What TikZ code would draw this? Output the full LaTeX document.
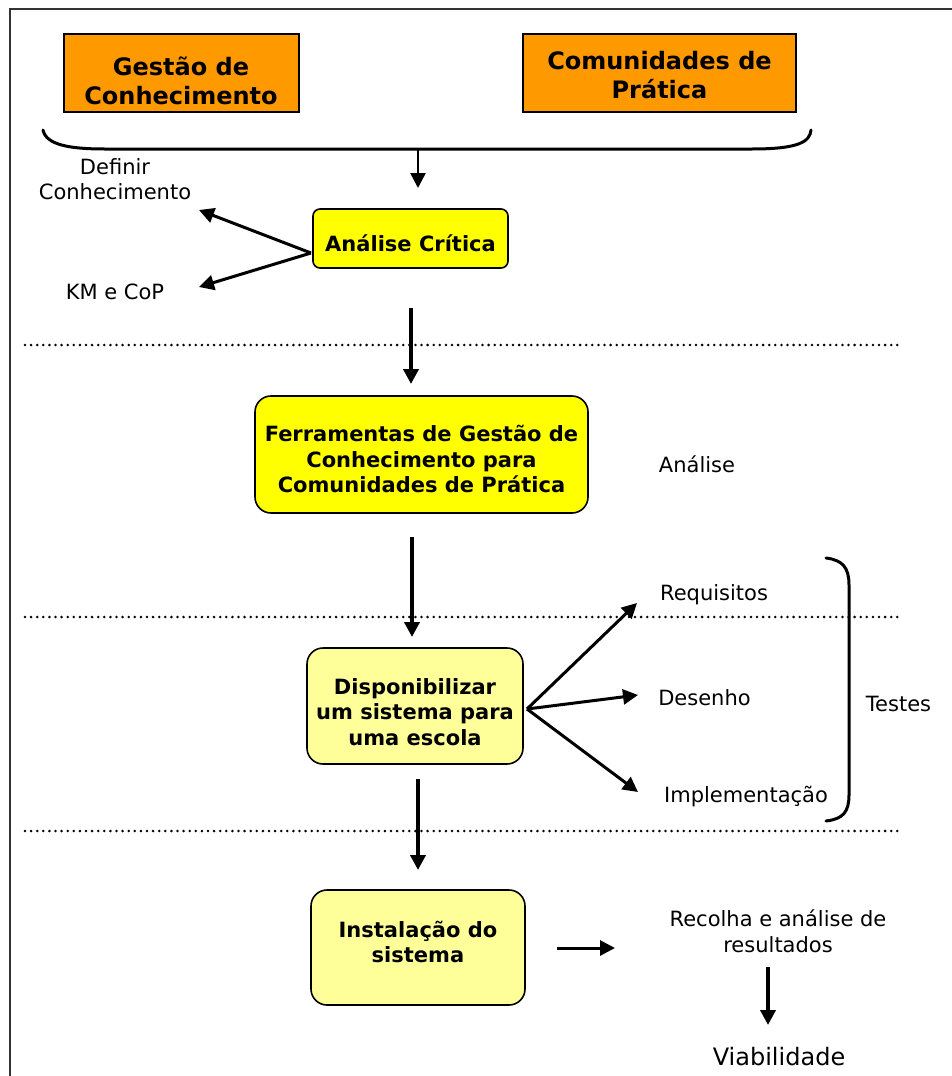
\documentclass[tikz,border=0pt]{standalone}
\usepackage{fontspec}
\setmainfont{DejaVu Sans}
\usetikzlibrary{arrows.meta}
\definecolor{boxorange}{HTML}{FF9900}
\definecolor{boxyellow}{HTML}{FFFF00}
\definecolor{boxpale}{HTML}{FFFF99}
\definecolor{framegray}{HTML}{333333}
\tikzset{
  topbox/.style={draw=black, line width=2pt, fill=boxorange, minimum width=#1, minimum height=78pt, inner sep=0pt},
  roundbox/.style={draw=black, line width=1.6pt, rounded corners=16pt, inner sep=0pt},
  bigbold/.style={font=\bfseries\fontsize{24}{29}\selectfont, align=center, inner sep=0pt},
  boldtxt/.style={font=\bfseries\fontsize{21}{25.5}\selectfont, align=center, inner sep=0pt},
  plain/.style={font=\fontsize{21}{25.5}\selectfont, align=center, inner sep=0pt},
  flow/.style={line width=#1, -{Triangle[length=15pt,width=15pt]}},
  flow/.default=4pt,
  dotline/.style={line width=2.8pt, line cap=round, dash pattern=on 0pt off 6.1pt},
  bracket/.style={line width=3pt, line cap=round}
}
\begin{document}
\begin{tikzpicture}[x=1pt, y=-1pt]
\useasboundingbox (0,0) rectangle (952,1076);
\clip (0,0) rectangle (952,1076);
\fill[white] (0,0) rectangle (952,1076);
% outer frame (runs off the right and bottom edges)
\draw[framegray, line width=2pt] (10,9) rectangle (1000,1100);

% the two source topics
\node[topbox=235pt] (gc) at (181,73) {};
\node[bigbold] (gct) at (181,81) {Gestão de\\Conhecimento};
\node[topbox=273pt] (cp) at (659.5,73) {};
\node[bigbold] (cpt) at (659.5,75.5) {Comunidades de\\Prática};

% curly bracket joining both topics
\draw[bracket] (43,130) .. controls (46,145) and (70,149) .. (105,149) -- (752,149) .. controls (798,149) and (810,142) .. (811,130);
\coordinate (brc) at (418,149);
\coordinate (brcTip) at (418,188);

% critical analysis
\node[roundbox, rounded corners=7pt, fill=boxyellow, minimum width=195pt, minimum height=59pt] (ac) at (410.5,238.5) {};
\node[boldtxt] (act) at (410.5,243) {Análise Crítica};
\draw[flow=2.6pt] (brc) -- (brcTip);

\node[plain] (def) at (115,179) {Definir\\Conhecimento};
\node[plain] (km) at (115,292) {KM e CoP};
\coordinate (acL) at (311,253);
\coordinate (defTip) at (199,210);
\coordinate (kmTip) at (199,287);
\draw[flow=3pt] (acL) -- (defTip);
\draw[flow=3pt] (acL) -- (kmTip);

% phase separators
\draw[dotline] (25,345) -- (902,345);
\draw[dotline] (25,617) -- (902,617);
\draw[dotline] (25,831) -- (902,831);

% tools for knowledge management
\node[roundbox, fill=boxyellow, minimum width=333pt, minimum height=117pt] (fg) at (421.5,454.5) {};
\node[boldtxt] (fgt) at (421.5,459) {Ferramentas de Gestão de\\Conhecimento para\\Comunidades de Prática};
\coordinate (a1s) at (411,308);
\coordinate (a1e) at (411,384);
\draw[flow] (a1s) -- (a1e);
\node[plain] (an) at (697,464) {Análise};

% system development
\node[roundbox, fill=boxpale, minimum width=216pt, minimum height=116pt] (ds) at (415,706) {};
\node[boldtxt] (dst) at (415,712) {Disponibilizar\\um sistema para\\uma escola};
\coordinate (a2s) at (412,537);
\coordinate (a2e) at (412,637);
\draw[flow] (a2s) -- (a2e);

\node[plain] (req) at (714,595) {Requisitos};
\node[plain] (des) at (704.5,698) {Desenho};
\node[plain] (imp) at (746,797) {Implementação};
\coordinate (dsR) at (527,709);
\coordinate (reqTip) at (637,603);
\coordinate (desTip) at (638,695);
\coordinate (impTip) at (638,792);
\draw[flow=3pt] (dsR) -- (reqTip);
\draw[flow=3pt] (dsR) -- (desTip);
\draw[flow=3pt] (dsR) -- (impTip);

% tests bracket
\draw[bracket] (826,558) .. controls (843,560) and (849,568) .. (849,585) -- (849,795) .. controls (849,812) and (843,819) .. (826,821);
\node[plain] (tst) at (898.5,704) {Testes};

% installation
\node[roundbox, fill=boxpale, minimum width=214pt, minimum height=115pt] (is) at (418,947.5) {};
\node[boldtxt] (ist) at (418,942) {Instalação do\\sistema};
\coordinate (a3s) at (418,779);
\coordinate (a3e) at (418,870);
\draw[flow] (a3s) -- (a3e);

\node[plain] (rec) at (778,931) {Recolha e análise de\\resultados};
\coordinate (a4s) at (557,948);
\coordinate (a4e) at (615,948);
\draw[flow=3pt] (a4s) -- (a4e);
\coordinate (a5s) at (768,967);
\coordinate (a5e) at (768,1025);
\draw[flow] (a5s) -- (a5e);
\node[font=\fontsize{24}{29}\selectfont, inner sep=0pt] (via) at (779,1057) {Viabilidade};
\end{tikzpicture}
\end{document}
